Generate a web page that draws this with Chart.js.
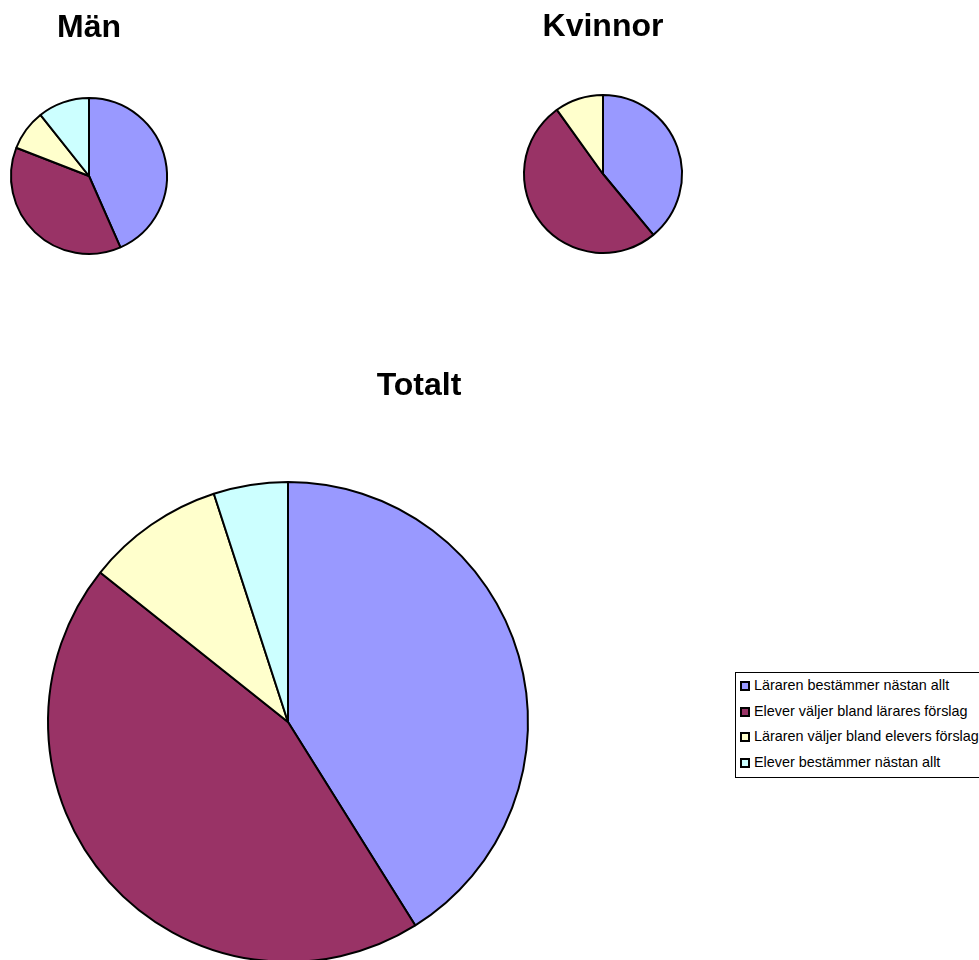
<!DOCTYPE html>
<html>
<head>
<meta charset="utf-8">
<script src="https://cdn.jsdelivr.net/npm/chart.js@4/dist/chart.umd.min.js"></script>
<style>
  body { margin: 0; background: #fff; overflow: hidden; width: 979px; height: 960px; position: relative; font-family: "Liberation Sans", Arial, sans-serif; }
  canvas { position: absolute; }
  #totTitle { position: absolute; left: 319px; top: 365px; width: 200px; text-align: center; font-weight: bold; font-size: 32px; line-height: 38px; color: #000; }
  #legend { position: absolute; left: 735px; top: 672px; width: 280px; height: 102px; padding-bottom: 2px; border: 1px solid #000; background: #fff; }
  .item { height: 25.5px; line-height: 25.5px; font-size: 14.4px; white-space: nowrap; color: #000; }
  .sw { display: inline-block; width: 6px; height: 6px; border: 2px solid #000; margin-left: 4px; margin-right: 4px; vertical-align: -1px; }
</style>
</head>
<body>
<canvas id="manChart" width="178" height="260" style="left:0px;top:0px"></canvas>
<canvas id="kvinnorChart" width="200" height="260" style="left:503px;top:0px"></canvas>
<canvas id="totaltChart" width="576" height="570" style="left:0px;top:400px"></canvas>
<div id="totTitle">Totalt</div>
<div id="legend"></div>
<script>
const categories = [
    'Läraren bestämmer nästan allt',
    'Elever väljer bland lärares förslag',
    'Läraren väljer bland elevers förslag',
    'Elever bestämmer nästan allt',
];
// andelar i procent
const manValues = [43.4, 37.5, 8.4, 10.7];
const kvinnorValues = [39.0, 51.1, 9.9, 0];
const totaltValues = [41.1, 44.6, 9.3, 5.0];
const sliceColors = ['#9999FF', '#993366', '#FFFFCC', '#CCFFFF'];

function makePie(id, values, title, titlePad, bottomPad, topPad) {
    const ctx = document.getElementById(id).getContext('2d');
    return new Chart(ctx, {
        type: 'pie',
        data: {
            labels: categories,
            datasets: [{
                data: values,
                backgroundColor: sliceColors,
                borderColor: '#000000',
                borderWidth: 2,
            }]
        },
        options: {
            responsive: false,
            animation: false,
            devicePixelRatio: 1,
            layout: { padding: { top: topPad, bottom: bottomPad } },
            plugins: {
                legend: { display: false },
                tooltip: { enabled: false },
                title: {
                    display: !!title,
                    text: title,
                    color: '#000',
                    font: { family: '"Liberation Sans", Arial, sans-serif', size: 32, weight: 'bold' },
                    padding: titlePad,
                }
            }
        }
    });
}

Chart.defaults.font.family = '"Liberation Sans", Arial, sans-serif';
makePie('manChart', manValues, 'Män', { top: 8.8, bottom: 49.8 }, 5, 0);
makePie('kvinnorChart', kvinnorValues, 'Kvinnor', { top: 8.3, bottom: 47.3 }, 6, 0);
makePie('totaltChart', totaltValues, '', 0, 7, 81);

// förklaring
const legendEl = document.getElementById('legend');
categories.forEach((c, i) => {
    const row = document.createElement('div');
    row.className = 'item';
    const sw = document.createElement('span');
    sw.className = 'sw';
    sw.style.background = sliceColors[i];
    row.appendChild(sw);
    row.appendChild(document.createTextNode(c));
    legendEl.appendChild(row);
});
</script>
</body>
</html>
